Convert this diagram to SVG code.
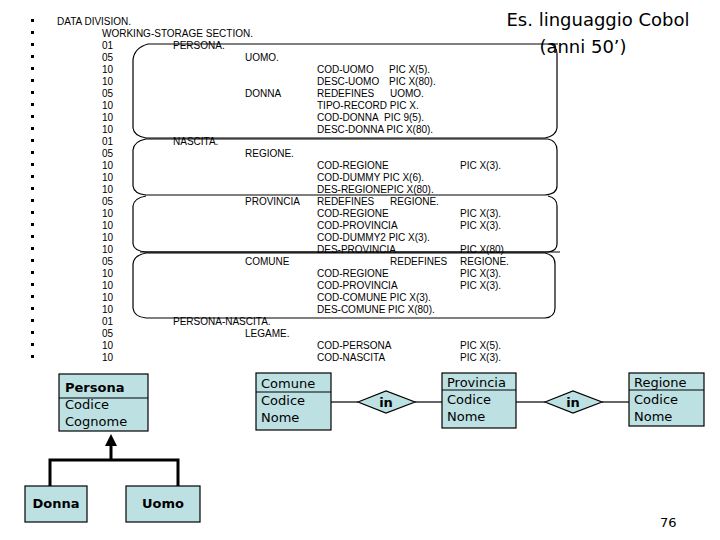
<svg xmlns="http://www.w3.org/2000/svg" width="720" height="540" viewBox="0 0 720 540">
<style>
.c{font-family:"Liberation Sans",Arial,sans-serif;font-size:10px;fill:#000}
.t{font-family:"DejaVu Sans","Liberation Sans",sans-serif;font-size:18px;fill:#000}
.e{font-family:"DejaVu Sans","Liberation Sans",sans-serif;font-size:13px;fill:#000}
.b{font-weight:bold}
.box{fill:#bde0e3;stroke:#000;stroke-width:1.2}
.br{fill:none;stroke:#000;stroke-width:1.2}
.ln{stroke:#000;stroke-width:1.2;fill:none}
.th{stroke:#000;stroke-width:3;fill:none}
</style>
<defs><marker id="ah" markerWidth="4" markerHeight="4" refX="2" refY="2" orient="auto" markerUnits="strokeWidth"><path d="M0,0L4,2L0,4Z" fill="#000"/></marker></defs>
<g id="bullets" fill="#000">
<rect x="31" y="19" width="3" height="3"/><rect x="31" y="31" width="3" height="3"/><rect x="31" y="43" width="3" height="3"/><rect x="31" y="55" width="3" height="3"/><rect x="31" y="67" width="3" height="3"/><rect x="31" y="79" width="3" height="3"/><rect x="31" y="91" width="3" height="3"/><rect x="31" y="103" width="3" height="3"/><rect x="31" y="115" width="3" height="3"/><rect x="31" y="127" width="3" height="3"/><rect x="31" y="139" width="3" height="3"/><rect x="31" y="151" width="3" height="3"/><rect x="31" y="163" width="3" height="3"/><rect x="31" y="175" width="3" height="3"/><rect x="31" y="187" width="3" height="3"/><rect x="31" y="199" width="3" height="3"/><rect x="31" y="211" width="3" height="3"/><rect x="31" y="223" width="3" height="3"/><rect x="31" y="235" width="3" height="3"/><rect x="31" y="247" width="3" height="3"/><rect x="31" y="259" width="3" height="3"/><rect x="31" y="271" width="3" height="3"/><rect x="31" y="283" width="3" height="3"/><rect x="31" y="295" width="3" height="3"/><rect x="31" y="307" width="3" height="3"/><rect x="31" y="319" width="3" height="3"/><rect x="31" y="331" width="3" height="3"/><rect x="31" y="343" width="3" height="3"/><rect x="31" y="355" width="3" height="3"/>
</g>
<g id="braces">
<path class="br" d="M558,44 L148,44 Q134,48 133,60 L133,128 Q134,136 146,138 L545,138 Q556,136 557,128 L557,54 Q557,46 550,44"/>
<path class="br" d="M146,139 Q134,141 133,150 L133,186 Q134,194 146,195 L545,195 Q557,194 557,186 L557,150 Q557,141 548,139 Z"/>
<path class="br" d="M146,196 Q134,198 133,206 L133,244 Q134,251 146,252 L548,252 Q557,251 557,244 L557,206 Q557,198 548,196"/>
<line class="ln" x1="140" y1="252" x2="560" y2="252" stroke-width="2"/>
<path class="br" d="M146,253 Q134,255 133,264 L133,308 Q134,317 146,318 L545,318 Q555,317 555,308 L555,264 Q555,255 545,253 Z"/>
</g>
<g id="code" class="c">
<text x="57" y="25">DATA DIVISION.</text>
<text x="102" y="37">WORKING-STORAGE SECTION.</text>
<text x="102" y="49">01</text><text x="173" y="49">PERSONA.</text>
<text x="102" y="61">05</text><text x="245" y="61">UOMO.</text>
<text x="102" y="73">10</text><text x="317" y="73">COD-UOMO</text><text x="389" y="73">PIC X(5).</text>
<text x="102" y="85">10</text><text x="317" y="85">DESC-UOMO</text><text x="389" y="85">PIC X(80).</text>
<text x="102" y="97">05</text><text x="245" y="97">DONNA</text><text x="317" y="97">REDEFINES</text><text x="390" y="97">UOMO.</text>
<text x="102" y="109">10</text><text x="317" y="109">TIPO-RECORD PIC X.</text>
<text x="102" y="121">10</text><text x="317" y="121">COD-DONNA</text><text x="384" y="121">PIC 9(5).</text>
<text x="102" y="133">10</text><text x="317" y="133">DESC-DONNA PIC X(80).</text>
<text x="102" y="145">01</text><text x="173" y="145">NASCITA.</text>
<text x="102" y="157">05</text><text x="245" y="157">REGIONE.</text>
<text x="102" y="169">10</text><text x="317" y="169">COD-REGIONE</text><text x="460" y="169">PIC X(3).</text>
<text x="102" y="181">10</text><text x="317" y="181">COD-DUMMY</text><text x="383" y="181">PIC X(6).</text>
<text x="102" y="193">10</text><text x="317" y="193">DES-REGIONEPIC X(80).</text>
<text x="102" y="205">05</text><text x="245" y="205">PROVINCIA</text><text x="317" y="205">REDEFINES</text><text x="390" y="205">REGIONE.</text>
<text x="102" y="217">10</text><text x="317" y="217">COD-REGIONE</text><text x="460" y="217">PIC X(3).</text>
<text x="102" y="229">10</text><text x="317" y="229">COD-PROVINCIA</text><text x="460" y="229">PIC X(3).</text>
<text x="102" y="241">10</text><text x="317" y="241">COD-DUMMY2 PIC X(3).</text>
<text x="102" y="253">10</text><text x="317" y="253">DES-PROVINCIA</text><text x="460" y="253">PIC X(80)</text>
<text x="102" y="265">05</text><text x="245" y="265">COMUNE</text><text x="390" y="265">REDEFINES</text><text x="460" y="265">REGIONE.</text>
<text x="102" y="277">10</text><text x="317" y="277">COD-REGIONE</text><text x="460" y="277">PIC X(3).</text>
<text x="102" y="289">10</text><text x="317" y="289">COD-PROVINCIA</text><text x="460" y="289">PIC X(3).</text>
<text x="102" y="301">10</text><text x="317" y="301">COD-COMUNE PIC X(3).</text>
<text x="102" y="313">10</text><text x="317" y="313">DES-COMUNE PIC X(80).</text>
<text x="102" y="325">01</text><text x="173" y="325">PERSONA-NASCITA.</text>
<text x="102" y="337">05</text><text x="245" y="337">LEGAME.</text>
<text x="102" y="349">10</text><text x="317" y="349">COD-PERSONA</text><text x="460" y="349">PIC X(5).</text>
<text x="102" y="361">10</text><text x="317" y="361">COD-NASCITA</text><text x="460" y="361">PIC X(3).</text>
</g>
<g id="title" class="t">
<text x="598" y="26" text-anchor="middle">Es. linguaggio Cobol</text>
<text x="583" y="53" text-anchor="middle">(anni 50’)</text>
</g>
<g id="connectors">
<line class="ln" x1="331" y1="402" x2="358" y2="402"/>
<line class="ln" x1="415" y1="402" x2="442" y2="402"/>
<line class="ln" x1="516" y1="402" x2="545" y2="402"/>
<line class="ln" x1="602" y1="402" x2="629" y2="402"/>
<path class="th" d="M50,486 V460 H178 V486"/>
<line class="th" x1="111" y1="460" x2="111" y2="440" marker-end="url(#ah)"/>
</g>
<g id="persona">
<rect class="box" x="59" y="374" width="89" height="57"/>
<line class="ln" x1="59" y1="398" x2="148" y2="398"/>
<text class="e b" x="65" y="392">Persona</text>
<text class="e" x="65" y="409">Codice</text>
<text class="e" x="65" y="426">Cognome</text>
</g>
<g id="donna"><rect class="box" x="25" y="486" width="62" height="36"/><text class="e b" x="56" y="508" text-anchor="middle">Donna</text></g>
<g id="uomo"><rect class="box" x="126" y="486" width="74" height="36"/><text class="e b" x="163" y="508" text-anchor="middle">Uomo</text></g>
<g id="comune">
<rect class="box" x="256" y="373" width="75" height="57"/>
<line class="ln" x1="256" y1="392" x2="331" y2="392"/>
<text class="e" x="261" y="388">Comune</text><text class="e" x="261" y="405">Codice</text><text class="e" x="261" y="422">Nome</text>
</g>
<g id="in1"><polygon class="box" points="358,402 386,391 415,402 386,413"/><text class="e b" x="386" y="407" text-anchor="middle">in</text></g>
<g id="provincia">
<rect class="box" x="442" y="373" width="74" height="55"/>
<line class="ln" x1="442" y1="390" x2="516" y2="390"/>
<text class="e" x="447" y="387">Provincia</text><text class="e" x="447" y="404">Codice</text><text class="e" x="447" y="421">Nome</text>
</g>
<g id="in2"><polygon class="box" points="545,402 573,391 602,402 573,413"/><text class="e b" x="573" y="407" text-anchor="middle">in</text></g>
<g id="regione">
<rect class="box" x="629" y="373" width="75" height="53"/>
<line class="ln" x1="629" y1="390" x2="704" y2="390"/>
<text class="e" x="634" y="387">Regione</text><text class="e" x="634" y="404">Codice</text><text class="e" x="634" y="421">Nome</text>
</g>
<text class="e" x="660" y="527">76</text>
</svg>
